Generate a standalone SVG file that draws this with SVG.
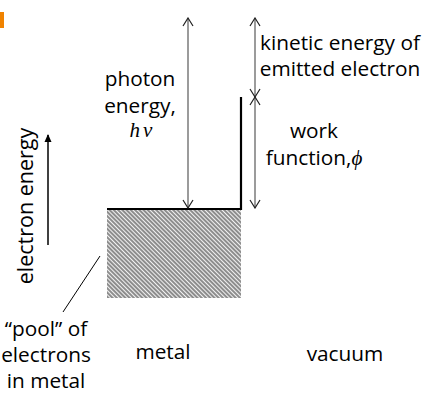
<svg xmlns="http://www.w3.org/2000/svg" width="427" height="400" viewBox="0 0 427 400">
<style>
.t{font-family:"Open Sans","Liberation Sans",sans-serif;font-size:20.8px;fill:#000}
.s{font-family:"Liberation Serif",serif;font-style:italic;font-size:21px;fill:#000}
.dim{stroke:#7a7a7a;stroke-width:1.5;fill:none;marker-start:url(#v);marker-end:url(#v)}
</style>
<defs>
<marker id="v" viewBox="-1 -6 10 12" refX="8" refY="0" markerWidth="10" markerHeight="12" markerUnits="userSpaceOnUse" orient="auto-start-reverse">
<path d="M0,-5 L8,0 L0,5" fill="none" stroke="#222" stroke-width="1.2"/>
</marker>
<marker id="f" viewBox="0 -4 8 8" refX="7" refY="0" markerWidth="8" markerHeight="8" markerUnits="userSpaceOnUse" orient="auto">
<path d="M0,-3.5 L8,0 L0,3.5 Z" fill="#000"/>
</marker>
<pattern id="hatch" width="3" height="3" patternUnits="userSpaceOnUse" patternTransform="rotate(-45)">
<rect width="3" height="3" fill="#f2f2f2"/>
<line x1="1" y1="0" x2="1" y2="3" stroke="#3a3a3a" stroke-width="1.1"/>
</pattern>
</defs>
<rect x="0" y="12" width="4" height="16" fill="#f08300"/>
<g id="metal">
<rect x="107" y="209" width="134" height="89" fill="url(#hatch)"/>
<path d="M107,209 H241 V97" fill="none" stroke="#000" stroke-width="2.2"/>
</g>
<g id="connectors">
<line class="dim" x1="188" y1="18" x2="188" y2="208"/>
<line class="dim" x1="255" y1="18" x2="255" y2="97"/>
<line class="dim" x1="255" y1="97" x2="255" y2="208"/>
<line x1="48" y1="245" x2="48" y2="135" stroke="#000" stroke-width="1.5" marker-end="url(#f)"/>
<line x1="63" y1="312" x2="100" y2="256" stroke="#000" stroke-width="1"/>
</g>
<g id="labels">
<text class="t" text-anchor="middle" x="140" y="86">photon</text>
<text class="t" text-anchor="middle" x="140" y="113">energy,</text>
<text class="s" text-anchor="middle" x="141" y="137">h<tspan dx="3">ν</tspan></text>
<text class="t" text-anchor="middle" x="340" y="50">kinetic energy of</text>
<text class="t" text-anchor="middle" x="340" y="76">emitted electron</text>
<text class="t" text-anchor="middle" x="314" y="138">work</text>
<text class="t" text-anchor="middle" x="314" y="165">function,<tspan class="s">ϕ</tspan></text>
<text class="t" text-anchor="middle" style="font-size:21.5px" transform="translate(33,206) rotate(-90)">electron energy</text>
<text class="t" text-anchor="middle" x="46" y="336">“pool” of</text>
<text class="t" text-anchor="middle" x="46" y="362">electrons</text>
<text class="t" text-anchor="middle" x="46" y="388">in metal</text>
<text class="t" text-anchor="middle" x="163" y="359">metal</text>
<text class="t" text-anchor="middle" x="345" y="361">vacuum</text>
</g>
</svg>
